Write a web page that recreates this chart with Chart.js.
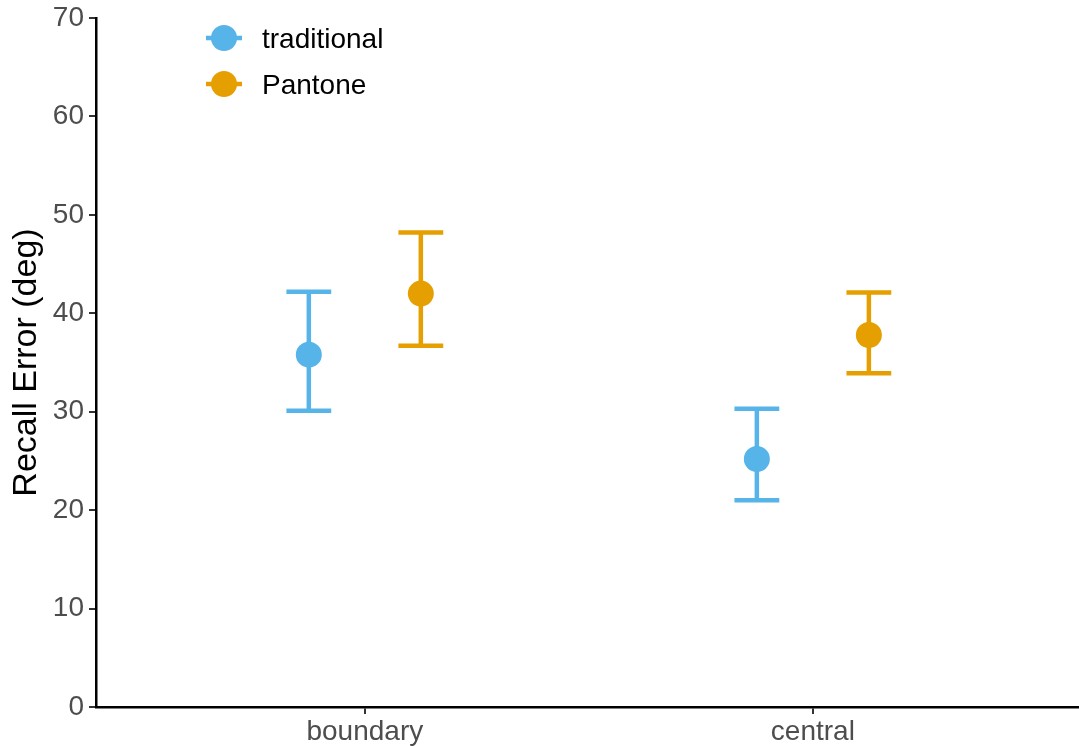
<!DOCTYPE html>
<html>
<head>
<meta charset="utf-8">
<script src="https://cdn.jsdelivr.net/npm/chart.js@4.4.0/dist/chart.umd.min.js"></script>
<style>
  html, body { margin: 0; padding: 0; background: #fff; }
  #wrap { width: 1079px; height: 746px; }
</style>
</head>
<body>
<div id="wrap"><canvas id="recall_error_graph" width="1079" height="746"></canvas></div>
<script>
// values
const categories = ['boundary', 'central'];
const seriesNames = ['traditional', 'Pantone'];
const seriesColors = ['#56B4E9', '#E69F00'];
const traditionalMean = [35.8, 25.2];
const traditionalLow = [30.1, 21.0];
const traditionalHigh = [42.2, 30.3];
const pantoneMean = [42.0, 37.8];
const pantoneLow = [36.7, 33.9];
const pantoneHigh = [48.2, 42.1];
const yTicks = [0, 10, 20, 30, 40, 50, 60, 70];

const dodge = 0.125;   // half of the dodge width
const capHalf = 0.05;  // half width of error bar caps
const FONT = "'Liberation Sans', Arial, Helvetica, sans-serif";

function makePoints(mean, low, high, offset) {
  return categories.map((c, i) => ({ x: i + 1 + offset, y: mean[i], low: low[i], high: high[i] }));
}

const errorBars = {
  id: 'errorBars',
  beforeDatasetsDraw(chart) {
    const ctx = chart.ctx;
    const xs = chart.scales.x, ys = chart.scales.y;
    ctx.save();
    chart.data.datasets.forEach(ds => {
      ctx.strokeStyle = ds.borderColor;
      ctx.lineWidth = 4.5;
      ctx.lineCap = 'butt';
      ds.data.forEach(p => {
        const x = xs.getPixelForValue(p.x);
        const x0 = xs.getPixelForValue(p.x - capHalf);
        const x1 = xs.getPixelForValue(p.x + capHalf);
        const yl = ys.getPixelForValue(p.low);
        const yh = ys.getPixelForValue(p.high);
        ctx.beginPath();
        ctx.moveTo(x, yl); ctx.lineTo(x, yh);
        ctx.moveTo(x0, yl); ctx.lineTo(x1, yl);
        ctx.moveTo(x0, yh); ctx.lineTo(x1, yh);
        ctx.stroke();
      });
    });
    ctx.restore();
  }
};

// ggplot style legend key: point with a line through it
const keyLegend = {
  id: 'keyLegend',
  afterDraw(chart) {
    const ctx = chart.ctx;
    ctx.save();
    seriesNames.forEach((name, i) => {
      const cy = 38 + i * 46;
      ctx.strokeStyle = seriesColors[i];
      ctx.lineWidth = 4.5;
      ctx.beginPath();
      ctx.moveTo(206, cy); ctx.lineTo(242, cy);
      ctx.stroke();
      ctx.fillStyle = seriesColors[i];
      ctx.beginPath();
      ctx.arc(224, cy, 13, 0, Math.PI * 2);
      ctx.fill();
      ctx.fillStyle = '#000';
      ctx.font = '28px ' + FONT;
      ctx.textBaseline = 'middle';
      ctx.fillText(name, 262, cy + 2);
    });
    ctx.restore();
  }
};

document.addEventListener('DOMContentLoaded', function () {
  let el = document.getElementById('recall_error_graph');
  if (el == null) return;

  new Chart(el, {
    type: 'scatter',
    data: {
      datasets: [
        {
          label: seriesNames[0],
          data: makePoints(traditionalMean, traditionalLow, traditionalHigh, -dodge),
          backgroundColor: seriesColors[0],
          borderColor: seriesColors[0],
          pointRadius: 13,
          pointBorderWidth: 0,
        },
        {
          label: seriesNames[1],
          data: makePoints(pantoneMean, pantoneLow, pantoneHigh, dodge),
          backgroundColor: seriesColors[1],
          borderColor: seriesColors[1],
          pointRadius: 13,
          pointBorderWidth: 0,
        }
      ]
    },
    options: {
      responsive: false,
      animation: false,
      devicePixelRatio: 1,
      layout: { autoPadding: false, padding: { top: 18, right: 0, left: 0, bottom: 0 } },
      plugins: {
        legend: { display: false },
        tooltip: { enabled: false },
      },
      scales: {
        x: {
          type: 'linear',
          bounds: 'data',
          min: 0.4,
          max: 2.594,
          afterBuildTicks: (scale) => { scale.ticks = categories.map((c, i) => ({ value: i + 1 })); },
          afterFit: (scale) => { scale.height = 39; scale.paddingLeft = 0; scale.paddingRight = 0; },
          grid: { drawOnChartArea: false, drawTicks: true, tickLength: 7, color: '#333', lineWidth: 2 },
          border: { display: true, color: '#000', width: 2.5 },
          ticks: {
            padding: 1,
            color: '#4D4D4D',
            font: { family: FONT, size: 28 },
            callback: (v) => categories[Math.round(v) - 1],
            maxRotation: 0,
          }
        },
        y: {
          min: 0,
          max: 70,
          bounds: 'data',
          afterBuildTicks: (scale) => { scale.ticks = yTicks.map(v => ({ value: v })); },
          afterFit: (scale) => { scale.width = 96; scale.paddingTop = 0; scale.paddingBottom = 0; },
          grid: { drawOnChartArea: false, drawTicks: true, tickLength: 7, color: '#333', lineWidth: 2 },
          border: { display: true, color: '#000', width: 2.5 },
          ticks: {
            padding: 5,
            color: '#4D4D4D',
            font: { family: FONT, size: 28 },
          },
          title: {
            display: true,
            text: 'Recall Error (deg)',
            color: '#000',
            font: { family: FONT, size: 34 },
            padding: { top: 6, bottom: 0 },
          }
        }
      }
    },
    plugins: [errorBars, keyLegend]
  });
});
</script>
</body>
</html>
